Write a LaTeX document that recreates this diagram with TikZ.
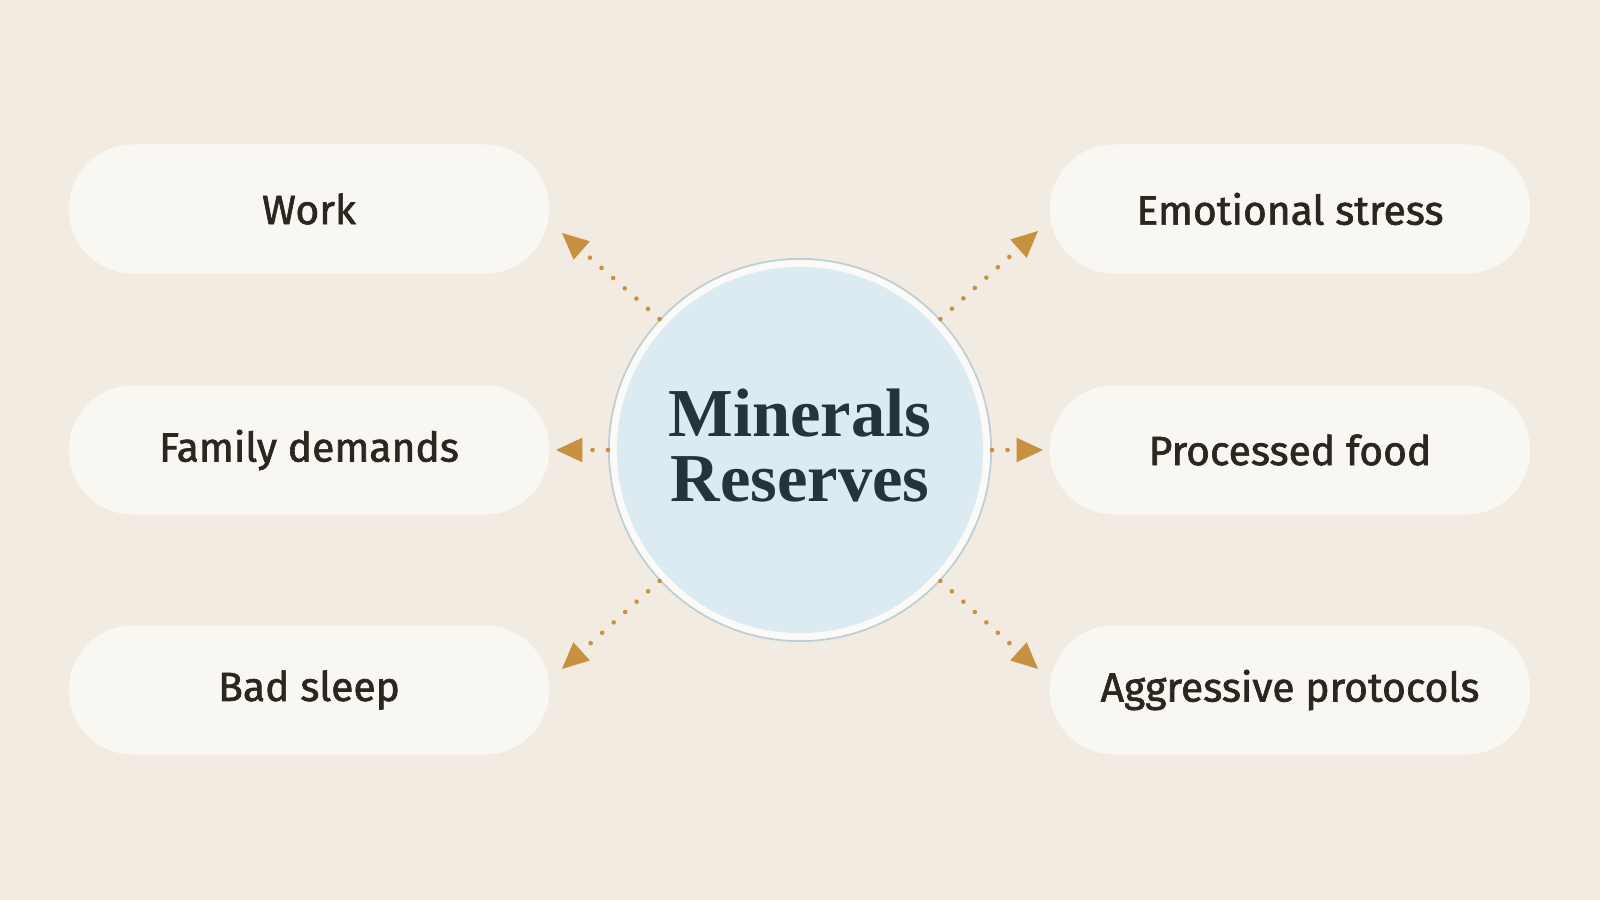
\documentclass[tikz,border=0pt]{standalone}
\usepackage{fontspec}
\setmainfont{Liberation Serif}
\newfontfamily\pillfont{Fira Sans}[FakeBold=1.6]
\usetikzlibrary{arrows.meta}
\definecolor{bg}{HTML}{F1EBE1}
\definecolor{pill}{HTML}{F9F7F2}
\definecolor{circ}{HTML}{DCEAF1}
\definecolor{ring}{HTML}{BCCFD6}
\definecolor{txt}{HTML}{2A2620}
\definecolor{ttl}{HTML}{22343D}
\definecolor{arr}{HTML}{C8913F}
\begin{document}
\begin{tikzpicture}[x=0.01cm,y=-0.01cm,
  pillbox/.style={rounded corners=0.64cm,fill=pill,minimum width=4.8cm,minimum height=1.29cm,
    font=\pillfont\fontsize{11.6}{13}\selectfont,text=txt},
  link/.style={draw=arr,line width=1.3pt,line cap=round,dash pattern=on 0pt off 4.4pt,
    -{Triangle[length=7.5pt,width=7pt,fill=arr,line width=0pt,sep=0pt]}, shorten >=0pt}]
\fill[bg] (0,0) rectangle (1600,900);
\useasboundingbox (0,0) rectangle (1600,900);
\node[pillbox] (work) at (309,209) {Work};
\node[pillbox] (fam) at (309,450) {Family demands};
\node[pillbox] (sleep) at (309,690) {Bad sleep};
\node[pillbox] (emo) at (1290,209) {Emotional stress};
\node[pillbox] (proc) at (1290,450) {Processed food};
\node[pillbox] (aggr) at (1290,690) {Aggressive protocols};
\node[circle,fill=pill!60!white,draw=ring,line width=0.5pt,minimum size=3.82cm,inner sep=0pt] (c) at (800,450) {};
\node[circle,fill=circ,minimum size=3.66cm,inner sep=0pt] (ci) at (800,450) {};
\node[align=center,text=ttl,font=\bfseries\fontsize{19.5}{18.5}\selectfont] (t) at (800,446) {Minerals\\Reserves};
\coordinate (a1) at (562,233);
\coordinate (a2) at (1038,231);
\coordinate (a3) at (556,450);
\coordinate (a4) at (1043,450);
\coordinate (a5) at (562,669);
\coordinate (a6) at (1038,669);
\draw[link] (c.137) -- (a1);
\draw[link] (c.43) -- (a2);
\draw[link] (c.180) -- (a3);
\draw[link] (c.0) -- (a4);
\draw[link] (c.223) -- (a5);
\draw[link] (c.317) -- (a6);
\end{tikzpicture}
\end{document}
